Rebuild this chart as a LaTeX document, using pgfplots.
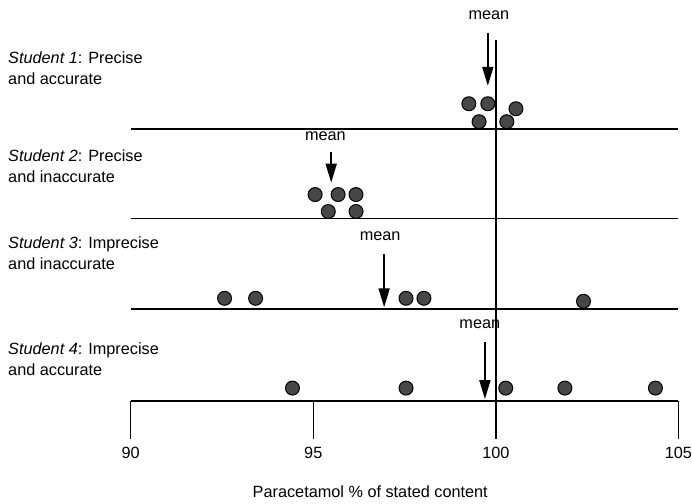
\documentclass[border=0pt]{standalone}
\usepackage{fontspec}
\setmainfont{Liberation Sans}
\usepackage{pgfplots}
\pgfplotsset{compat=1.18}
\usetikzlibrary{arrows.meta}

% y is measured in pt from the bottom of the picture, x in % of stated content
\pgfplotsset{
  dots/.style={only marks, mark=*, mark size=7pt,
    mark options={fill=black!72, draw=black, line width=1pt}},
  base/.style={black, line width=1.8pt},
  meanarrow/.style={black, line width=1.8pt, -{Triangle[length=19pt,width=11pt]}},
}

\begin{document}
\fontsize{16.3}{21}\selectfont
\begin{tikzpicture}
\begin{axis}[
  scale only axis, width=549pt, height=402pt,
  xmin=90, xmax=105, ymin=103, ymax=505,
  axis x line=bottom, axis y line=none,
  x axis line style={-, line width=1.8pt},
  xtick={90,95,100,105},
  tick align=outside, major tick length=38pt,
  xtick style={black, line width=1.5pt},
  xticklabel style={font=\fontsize{16.3}{19}\selectfont, inner xsep=0pt, inner ysep=8pt},
  /pgf/number format/assume math mode=true,
  clip=false,
]
% picture frame
\path (axis cs:86.42,0) rectangle (axis cs:105.33,505);

% baselines and the true value
\addplot[base] coordinates {(90,376) (105,376)};
\addplot[base] coordinates {(90,286) (105,286)};
\addplot[base] coordinates {(90,195) (105,195)};
\addplot[base] coordinates {(100,465) (100,103)};

% student 1
\addplot[dots] coordinates {(99.26,401) (99.78,401) (100.55,396) (99.54,383) (100.30,383)};
% student 2
\addplot[dots] coordinates {(95.05,310) (95.68,310) (96.17,310) (95.41,293) (96.17,293)};
% student 3
\addplot[dots] coordinates {(92.57,206) (93.42,206) (97.54,206) (98.03,206) (102.40,203)};
% student 4
\addplot[dots] coordinates {(94.43,116) (97.54,116) (100.27,116) (101.89,116) (104.37,116)};

% means
\addplot[meanarrow] coordinates {(99.78,472) (99.78,419)};
\addplot[meanarrow] coordinates {(95.49,353) (95.49,322)};
\addplot[meanarrow] coordinates {(96.94,250) (96.94,197)};
\addplot[meanarrow] coordinates {(99.70,162) (99.70,105)};
\node at (axis cs:99.81,490) {mean};
\node at (axis cs:95.33,368) {mean};
\node at (axis cs:96.83,268) {mean};
\node at (axis cs:99.56,180) {mean};

% labels
\node[anchor=west, align=left, inner sep=0pt] at (axis cs:86.64,437) {\textit{Student 1}: Precise\\and accurate};
\node[anchor=west, align=left, inner sep=0pt] at (axis cs:86.64,338) {\textit{Student 2}: Precise\\and inaccurate};
\node[anchor=west, align=left, inner sep=0pt] at (axis cs:86.64,251) {\textit{Student 3}: Imprecise\\and inaccurate};
\node[anchor=west, align=left, inner sep=0pt] at (axis cs:86.64,145) {\textit{Student 4}: Imprecise\\and accurate};

\node at (axis cs:96.56,12) {Paracetamol \% of stated content};
\end{axis}
\end{tikzpicture}
\end{document}
